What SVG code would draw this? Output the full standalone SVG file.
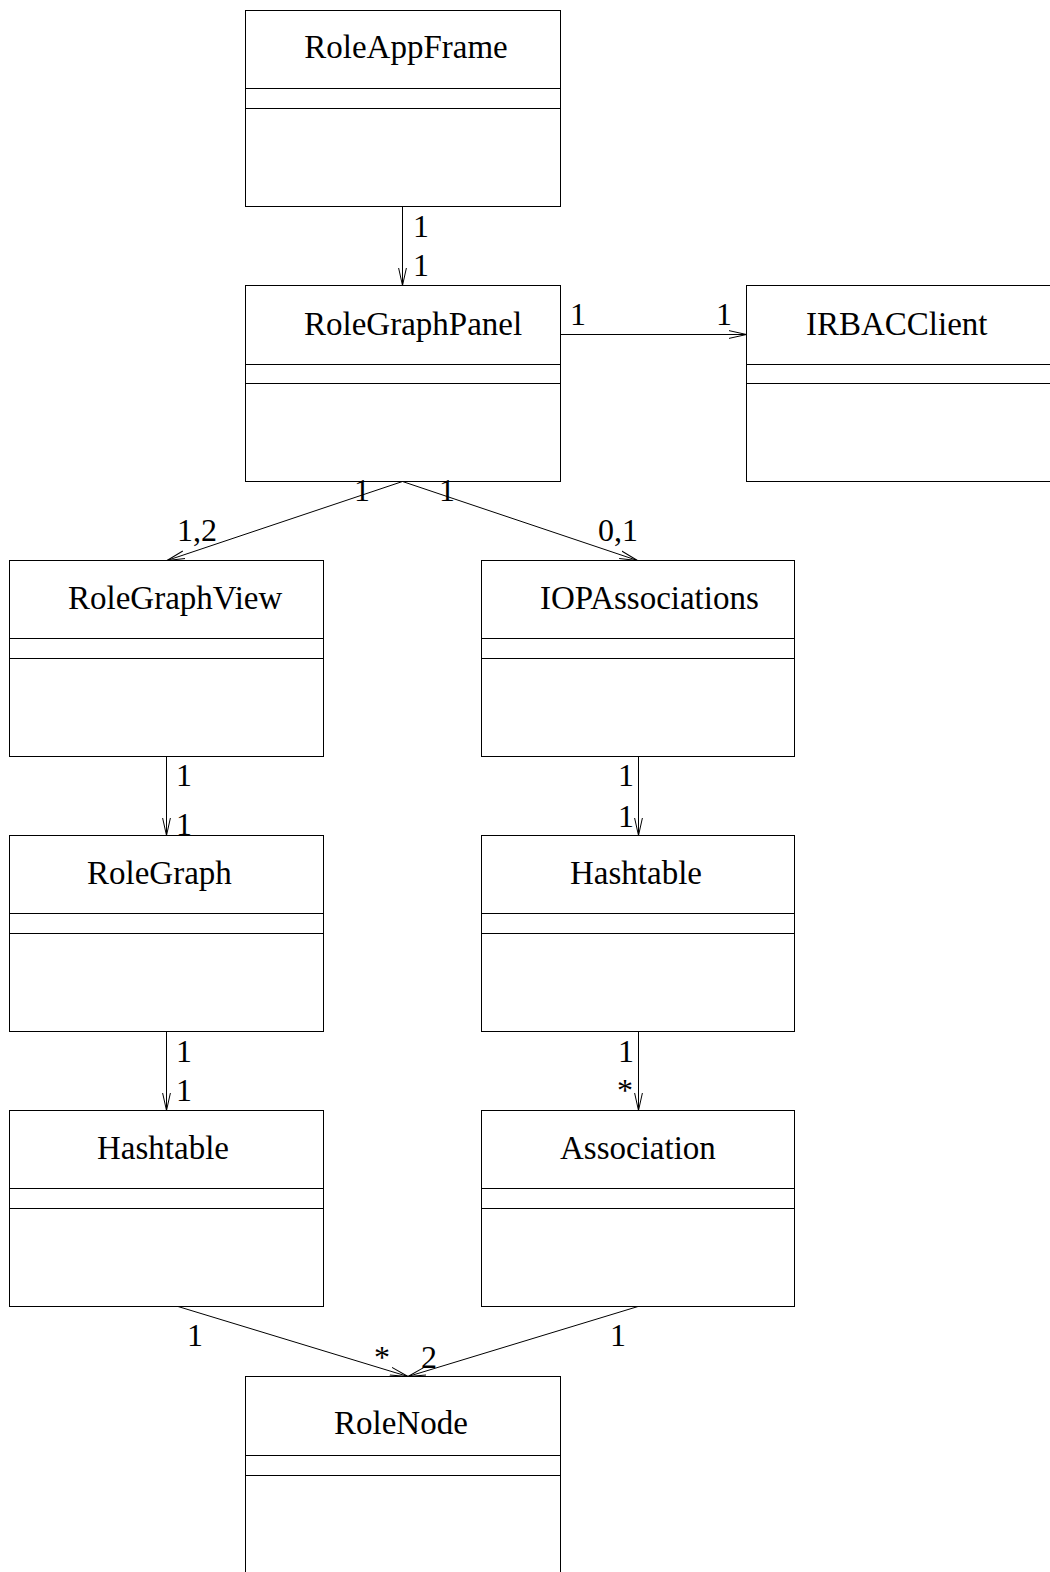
<svg xmlns="http://www.w3.org/2000/svg" width="1050" height="1572" viewBox="0 0 1050 1572">
<defs>
<style>
.box{fill:#fff;stroke:#000;stroke-width:1}
.div{stroke:#000;stroke-width:1}
.name{font-family:"Liberation Serif","Times New Roman",serif;font-size:33px;fill:#000}
.lbl{font-family:"Liberation Serif","Times New Roman",serif;font-size:32px;fill:#000}
.conn{stroke:#000;stroke-width:1;fill:none}
</style>
<marker id="arr" markerUnits="userSpaceOnUse" markerWidth="20" markerHeight="10" viewBox="0 0 20 10" refX="18" refY="5" orient="auto">
<path d="M0,1 L18,5 L0,9" fill="none" stroke="#000" stroke-width="1"/>
</marker>
</defs>
<rect width="1050" height="1572" fill="#fff"/>

<g id="RoleAppFrame">
<rect class="box" x="245.5" y="10.5" width="315" height="196"/>
<line class="div" x1="245.5" y1="88.5" x2="560.5" y2="88.5"/>
<line class="div" x1="245.5" y1="108.5" x2="560.5" y2="108.5"/>
<text class="name" x="406" y="58" text-anchor="middle">RoleAppFrame</text>
</g>

<g id="RoleGraphPanel">
<rect class="box" x="245.5" y="285.5" width="315" height="196"/>
<line class="div" x1="245.5" y1="364.5" x2="560.5" y2="364.5"/>
<line class="div" x1="245.5" y1="383.5" x2="560.5" y2="383.5"/>
<text class="name" x="304" y="335">RoleGraphPanel</text>
</g>

<g id="IRBACClient">
<rect class="box" x="746.5" y="285.5" width="315" height="196"/>
<line class="div" x1="746.5" y1="364.5" x2="1061" y2="364.5"/>
<line class="div" x1="746.5" y1="383.5" x2="1061" y2="383.5"/>
<text class="name" x="806" y="335">IRBACClient</text>
</g>

<g id="RoleGraphView">
<rect class="box" x="9.5" y="560.5" width="314" height="196"/>
<line class="div" x1="9.5" y1="638.5" x2="323.5" y2="638.5"/>
<line class="div" x1="9.5" y1="658.5" x2="323.5" y2="658.5"/>
<text class="name" x="68" y="609">RoleGraphView</text>
</g>

<g id="IOPAssociations">
<rect class="box" x="481.5" y="560.5" width="313" height="196"/>
<line class="div" x1="481.5" y1="638.5" x2="794.5" y2="638.5"/>
<line class="div" x1="481.5" y1="658.5" x2="794.5" y2="658.5"/>
<text class="name" x="540" y="609">IOPAssociations</text>
</g>

<g id="RoleGraph">
<rect class="box" x="9.5" y="835.5" width="314" height="196"/>
<line class="div" x1="9.5" y1="913.5" x2="323.5" y2="913.5"/>
<line class="div" x1="9.5" y1="933.5" x2="323.5" y2="933.5"/>
<text class="name" x="87" y="884">RoleGraph</text>
</g>

<g id="Hashtable2">
<rect class="box" x="481.5" y="835.5" width="313" height="196"/>
<line class="div" x1="481.5" y1="913.5" x2="794.5" y2="913.5"/>
<line class="div" x1="481.5" y1="933.5" x2="794.5" y2="933.5"/>
<text class="name" x="570" y="884">Hashtable</text>
</g>

<g id="Hashtable1">
<rect class="box" x="9.5" y="1110.5" width="314" height="196"/>
<line class="div" x1="9.5" y1="1188.5" x2="323.5" y2="1188.5"/>
<line class="div" x1="9.5" y1="1208.5" x2="323.5" y2="1208.5"/>
<text class="name" x="97" y="1159">Hashtable</text>
</g>

<g id="Association">
<rect class="box" x="481.5" y="1110.5" width="313" height="196"/>
<line class="div" x1="481.5" y1="1188.5" x2="794.5" y2="1188.5"/>
<line class="div" x1="481.5" y1="1208.5" x2="794.5" y2="1208.5"/>
<text class="name" x="560" y="1159">Association</text>
</g>

<g id="RoleNode">
<rect class="box" x="245.5" y="1376.5" width="315" height="200"/>
<line class="div" x1="245.5" y1="1455.5" x2="560.5" y2="1455.5"/>
<line class="div" x1="245.5" y1="1475.5" x2="560.5" y2="1475.5"/>
<text class="name" x="334" y="1434">RoleNode</text>
</g>

<g id="connectors">
<line class="conn" x1="402.5" y1="206.5" x2="402.5" y2="285.5" marker-end="url(#arr)"/>
<line class="conn" x1="560.5" y1="334.5" x2="746.5" y2="334.5" marker-end="url(#arr)"/>
<line class="conn" x1="402.5" y1="481.5" x2="167" y2="560.5" marker-end="url(#arr)"/>
<line class="conn" x1="402.5" y1="481.5" x2="637.5" y2="560.5" marker-end="url(#arr)"/>
<line class="conn" x1="166.5" y1="756.5" x2="166.5" y2="835.5" marker-end="url(#arr)"/>
<line class="conn" x1="638.5" y1="756.5" x2="638.5" y2="835.5" marker-end="url(#arr)"/>
<line class="conn" x1="166.5" y1="1031.5" x2="166.5" y2="1110.5" marker-end="url(#arr)"/>
<line class="conn" x1="638.5" y1="1031.5" x2="638.5" y2="1110.5" marker-end="url(#arr)"/>
<line class="conn" x1="178" y1="1306.5" x2="408" y2="1376.5" marker-end="url(#arr)"/>
<line class="conn" x1="638" y1="1306.5" x2="408" y2="1376.5" marker-end="url(#arr)"/>

<text class="lbl" x="413" y="237">1</text>
<text class="lbl" x="413" y="276">1</text>
<text class="lbl" x="570" y="325">1</text>
<text class="lbl" x="716" y="325">1</text>
<text class="lbl" x="354" y="501">1</text>
<text class="lbl" x="439" y="501">1</text>
<text class="lbl" x="177" y="541">1,2</text>
<text class="lbl" x="598" y="541">0,1</text>
<text class="lbl" x="176" y="786">1</text>
<text class="lbl" x="176" y="835">1</text>
<text class="lbl" x="618" y="786">1</text>
<text class="lbl" x="618" y="827">1</text>
<text class="lbl" x="176" y="1062">1</text>
<text class="lbl" x="176" y="1101">1</text>
<text class="lbl" x="618" y="1062">1</text>
<text class="lbl" x="617" y="1101">*</text>
<text class="lbl" x="187" y="1346">1</text>
<text class="lbl" x="374" y="1368">*</text>
<text class="lbl" x="421" y="1368">2</text>
<text class="lbl" x="610" y="1346">1</text>
</g>
</svg>
